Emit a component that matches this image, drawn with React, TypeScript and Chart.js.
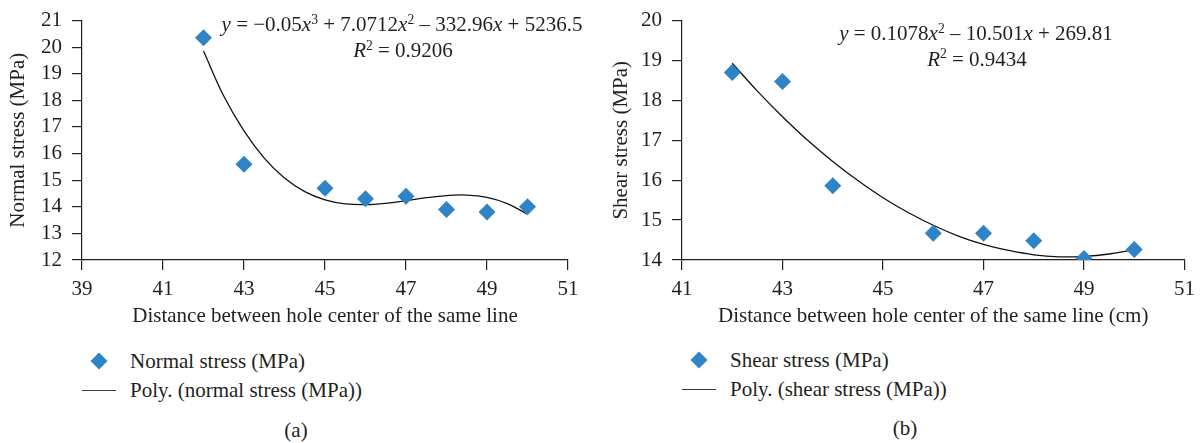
import React, { useEffect, useRef } from "react";
import { Chart, registerables } from "chart.js";

Chart.register(...registerables);

// ---- Panel (a): normal stress ----
const normalX = [42, 43, 45, 46, 47, 48, 49, 50];
const normalY = [20.35, 15.6, 14.7, 14.3, 14.4, 13.9, 13.8, 14.0];
// cubic trend line, sampled every 0.5 cm
const normalFitX = [42, 42.5, 43, 43.5, 44, 44.5, 45, 45.5, 46, 46.5, 47, 47.5, 48, 48.5, 49, 49.5, 50];
const normalFitY = [19.85, 18.16, 16.85, 15.83, 15.08, 14.57, 14.26, 14.11, 14.08, 14.13, 14.23, 14.34, 14.42, 14.44, 14.35, 14.12, 13.72];
const normalXTicks = [39, 41, 43, 45, 47, 49, 51];
const normalYTicks = [12, 13, 14, 15, 16, 17, 18, 19, 20, 21];

// ---- Panel (b): shear stress ----
const shearX = [42, 43, 44, 46, 47, 48, 49, 50];
const shearY = [18.7, 18.47, 15.86, 14.67, 14.67, 14.48, 14.04, 14.26];
// quadratic trend line, sampled every 0.5 cm
const shearFitX = [42, 42.5, 43, 43.5, 44, 44.5, 45, 45.5, 46, 46.5, 47, 47.5, 48, 48.5, 49, 49.5, 50];
const shearFitY = [18.93, 18.23, 17.59, 17.0, 16.47, 15.99, 15.56, 15.19, 14.87, 14.6, 14.39, 14.24, 14.13, 14.08, 14.09, 14.15, 14.26];
const shearXTicks = [41, 43, 45, 47, 49, 51];
const shearYTicks = [14, 15, 16, 17, 18, 19, 20];

const INK = "#231f20";
const BLUE = "#2e84c6";
const FONT = "'Liberation Serif', 'DejaVu Serif', serif";
const FS = 21;

Chart.defaults.font.family = FONT;

type PanelProps = {
  xs: number[];
  ys: number[];
  fitX: number[];
  fitY: number[];
  xTicks: number[];
  yTicks: number[];
  pointLabel: string;
  fitLabel: string;
  xTitle: string;
  yTitle: string;
  width: number;
  height: number;
  padTop: number;
  padRight: number;
  yTitlePad: number;
};

function Panel(p: PanelProps) {
  const ref = useRef<HTMLCanvasElement | null>(null);

  useEffect(() => {
    if (!ref.current) return;
    const toTicks = (vals: number[]) => (s: any) => {
      s.ticks = vals.map((v) => ({ value: v }));
    };
    const chart = new Chart(ref.current, {
      type: "scatter",
      data: {
        datasets: [
          {
            label: p.pointLabel,
            data: p.xs.map((x, i) => ({ x, y: p.ys[i] })),
            pointStyle: "rectRot",
            pointRadius: 8.5,
            pointHoverRadius: 8.5,
            backgroundColor: BLUE,
            borderColor: BLUE,
            borderWidth: 0,
            order: 0,
          },
          {
            label: p.fitLabel,
            data: p.fitX.map((x, i) => ({ x, y: p.fitY[i] })),
            showLine: true,
            pointRadius: 0,
            pointHoverRadius: 0,
            borderColor: "#111111",
            borderWidth: 1.3,
            tension: 0.4,
            fill: false,
            order: 1,
          },
        ],
      },
      options: {
        responsive: false,
        animation: false,
        devicePixelRatio: 1,
        events: [],
        layout: { padding: { top: p.padTop, right: p.padRight, left: 0, bottom: 0 } },
        plugins: { legend: { display: false }, tooltip: { enabled: false } },
        scales: {
          x: {
            type: "linear",
            min: p.xTicks[0],
            max: p.xTicks[p.xTicks.length - 1],
            afterBuildTicks: toTicks(p.xTicks),
            afterFit: (s: any) => {
              s.height = p.height - 260;
            },
            grid: { drawOnChartArea: false, tickLength: 10, color: INK, lineWidth: 1.2 },
            border: { color: INK, width: 1.2 },
            ticks: { color: INK, font: { size: FS }, padding: 7, maxRotation: 0, autoSkip: false },
            title: {
              display: true,
              text: p.xTitle,
              color: INK,
              font: { size: FS },
              padding: { top: 0, bottom: 10.7 },
            },
          },
          y: {
            type: "linear",
            min: p.yTicks[0],
            max: p.yTicks[p.yTicks.length - 1],
            afterBuildTicks: toTicks(p.yTicks),
            afterFit: (s: any) => {
              s.width = 82;
            },
            grid: { drawOnChartArea: false, tickLength: 10, color: INK, lineWidth: 1.2 },
            border: { color: INK, width: 1.2 },
            ticks: { color: INK, font: { size: FS, lineHeight: 1 }, padding: 10, autoSkip: false },
            title: {
              display: true,
              text: p.yTitle,
              color: INK,
              font: { size: FS },
              padding: { top: p.yTitlePad, bottom: 0 },
            },
          },
        },
      },
    });
    return () => chart.destroy();
  }, []);

  return <canvas ref={ref} width={p.width} height={p.height} style={{ display: "block" }} />;
}

const textBase: React.CSSProperties = {
  position: "absolute",
  fontFamily: FONT,
  fontSize: FS,
  lineHeight: 1,
  color: INK,
  whiteSpace: "nowrap",
};

function Centered({ x, y, children }: { x: number; y: number; children: React.ReactNode }) {
  return <div style={{ ...textBase, left: x, top: y, transform: "translate(-50%, -50%)" }}>{children}</div>;
}

function Sup({ children }: { children: React.ReactNode }) {
  return (
    <span style={{ fontSize: "0.65em", position: "relative", top: "-0.55em" }}>{children}</span>
  );
}

function Legend({ x, y, pointLabel, fitLabel }: { x: number; y: number; pointLabel: string; fitLabel: string }) {
  return (
    <>
      <div
        style={{
          position: "absolute",
          left: x - 6,
          top: y - 6,
          width: 12,
          height: 12,
          background: BLUE,
          transform: "rotate(45deg)",
        }}
      />
      <div style={{ ...textBase, left: x + 31, top: y, transform: "translateY(-50%)" }}>{pointLabel}</div>
      <div
        style={{
          position: "absolute",
          left: x - 17.5,
          top: y + 28.5,
          width: 34,
          height: 1.3,
          background: "#3a3a3a",
        }}
      />
      <div style={{ ...textBase, left: x + 31, top: y + 29, transform: "translateY(-50%)" }}>{fitLabel}</div>
    </>
  );
}

export default function App() {
  return (
    <div
      style={{
        position: "absolute",
        left: 0,
        top: 0,
        width: 1202,
        height: 443,
        background: "#ffffff",
        overflow: "hidden",
      }}
    >
      <div style={{ position: "absolute", left: 0, top: 0 }}>
        <Panel
          xs={normalX}
          ys={normalY}
          fitX={normalFitX}
          fitY={normalFitY}
          xTicks={normalXTicks}
          yTicks={normalYTicks}
          pointLabel="Normal stress (MPa)"
          fitLabel="Poly. (normal stress (MPa))"
          xTitle="Distance between hole center of the same line"
          yTitle="Normal stress (MPa)"
          width={600}
          height={340}
          padTop={15.5}
          padRight={32}
          yTitlePad={6}
        />
      </div>
      <div style={{ position: "absolute", left: 600, top: 0 }}>
        <Panel
          xs={shearX}
          ys={shearY}
          fitX={shearFitX}
          fitY={shearFitY}
          xTicks={shearXTicks}
          yTicks={shearYTicks}
          pointLabel="Shear stress (MPa)"
          fitLabel="Poly. (shear stress (MPa))"
          xTitle="Distance between hole center of the same line (cm)"
          yTitle="Shear stress (MPa)"
          width={602}
          height={340}
          padTop={9.5}
          padRight={17}
          yTitlePad={8.8}
        />
      </div>

      <Centered x={402} y={24}>
        <i>y</i> = −0.05<i>x</i>
        <Sup>3</Sup> + 7.0712<i>x</i>
        <Sup>2</Sup> – 332.96<i>x</i> + 5236.5
      </Centered>
      <Centered x={403} y={50}>
        <i>R</i>
        <Sup>2</Sup> = 0.9206
      </Centered>

      <Centered x={976} y={33}>
        <i>y</i> = 0.1078<i>x</i>
        <Sup>2</Sup> – 10.501<i>x</i> + 269.81
      </Centered>
      <Centered x={977} y={58.5}>
        <i>R</i>
        <Sup>2</Sup> = 0.9434
      </Centered>

      <Legend x={99} y={361} pointLabel="Normal stress (MPa)" fitLabel="Poly. (normal stress (MPa))" />
      <Legend x={699} y={360} pointLabel="Shear stress (MPa)" fitLabel="Poly. (shear stress (MPa))" />

      <Centered x={296} y={430}>(a)</Centered>
      <Centered x={905} y={428}>(b)</Centered>
    </div>
  );
}
